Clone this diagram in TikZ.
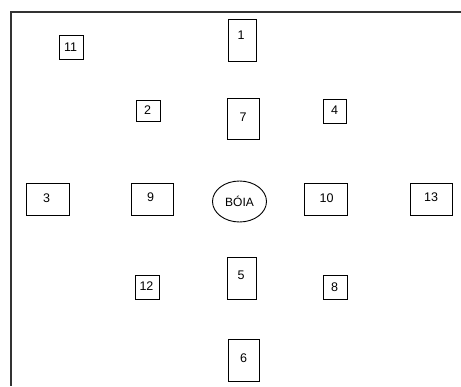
\documentclass[tikz,border=0pt]{standalone}
\usepackage{fontspec}
\setmainfont{Liberation Sans}
\usetikzlibrary{shapes.geometric}
\begin{document}
\begin{tikzpicture}[x=1pt,y=-1pt,
  bx/.style={draw=black, line width=0.9pt, inner sep=0pt, anchor=north west},
  lbl/.style={font=\fontsize{12.5}{13}\selectfont, inner sep=0pt, text=black},
  frame/.style={draw=black!80, line width=1.4pt}]
\useasboundingbox (0,0) rectangle (461,386);
\fill[white] (0,0) rectangle (461,386);
% frame
\coordinate (fTL) at (11,12);
\coordinate (fTR) at (461,12);
\coordinate (fBL) at (11,386);
\draw[frame] (fTR) -- (fTL) -- (fBL);
% boxes: top-left corner, width, height, label position
\newcommand{\mybox}[7]{%
  \node[bx, minimum width=#4, minimum height=#5] (b#1) at (#2,#3) {};
  \node[lbl] (t#1) at (#6,#7) {#1};}
\mybox{11}{59}{35}{24}{24}{70.5}{47}
\mybox{1}{227.5}{18.5}{28.5}{42.5}{241}{35}
\mybox{2}{135.5}{100}{24.5}{21}{147.5}{110.5}
\mybox{7}{227}{98}{32}{41}{243}{117}
\mybox{4}{322.5}{98.5}{23.5}{24.5}{334.5}{110}
\mybox{3}{26}{183}{42.5}{32}{46.5}{198}
\mybox{9}{130.5}{183}{42}{32}{150.5}{197.5}
\mybox{10}{304}{183}{42.5}{32}{326.5}{198}
\mybox{13}{409.5}{183}{42}{32}{431}{197}
\mybox{12}{134.5}{274.5}{24}{24.5}{146.5}{286.5}
\mybox{5}{227}{257}{29}{41.5}{241}{275.5}
\mybox{8}{322.5}{274.5}{24}{24.5}{334.5}{287}
\mybox{6}{228}{339}{31}{41.5}{243.5}{358}
% buoy
\node[draw=black, line width=0.9pt, ellipse, minimum width=54pt, minimum height=41pt, inner sep=0pt,
  font=\fontsize{12}{13}\selectfont] (boia) at (239.5,201.5) {BÓIA};
\end{tikzpicture}
\end{document}
